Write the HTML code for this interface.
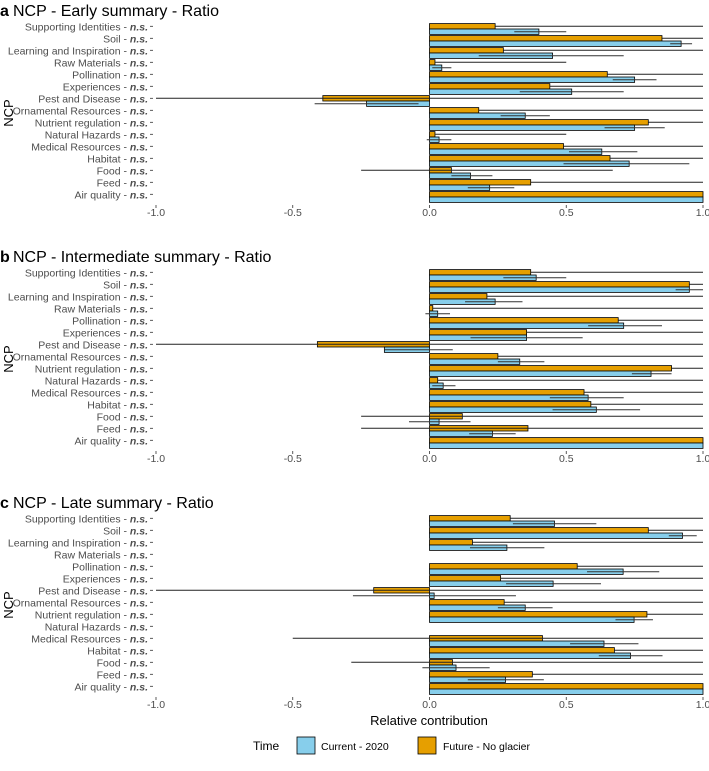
<!DOCTYPE html>
<html><head><meta charset="utf-8">
<style>
body{margin:0;background:#fff;}
svg text{font-family:"Liberation Sans",sans-serif;}
</style></head>
<body>
<svg id="chart" width="709" height="766" xmlns="http://www.w3.org/2000/svg"></svg>
<script>
const categories = ["Supporting Identities","Soil","Learning and Inspiration","Raw Materials","Pollination","Experiences","Pest and Disease","Ornamental Resources","Nutrient regulation","Natural Hazards","Medical Resources","Habitat","Food","Feed","Air quality"];
const tickValues = [-1.0,-0.5,0.0,0.5,1.0];
const tickLabels = ["-1.0","-0.5","0.0","0.5","1.0"];
const panelTitles = ["NCP - Early summary - Ratio","NCP - Intermediate summary - Ratio","NCP - Late summary - Ratio"];
const panelLetters = ["a","b","c"];

// Early
const futureA = [0.24,0.85,0.27,0.02,0.65,0.44,-0.39,0.18,0.80,0.02,0.49,0.66,0.08,0.37,1.0];
const futureLoA = [0.24,0.85,0.27,0.02,0.65,0.44,-1.0,0.18,0.80,0.02,0.49,0.66,-0.25,0.37,1.0];
const futureHiA = [1.0,1.0,1.0,0.50,1.0,1.0,1.0,1.0,1.0,0.50,1.0,1.0,0.67,1.0,1.0];
const currentA = [0.40,0.92,0.45,0.045,0.75,0.52,-0.23,0.35,0.75,0.035,0.63,0.73,0.15,0.22,1.0];
const currentLoA = [0.31,0.88,0.18,0.01,0.67,0.33,-0.42,0.26,0.64,-0.01,0.51,0.49,0.08,0.14,1.0];
const currentHiA = [0.50,0.96,0.71,0.08,0.83,0.71,-0.04,0.44,0.86,0.08,0.76,0.95,0.23,0.31,1.0];
// Intermediate
const futureB = [0.37,0.95,0.21,0.012,0.69,0.355,-0.41,0.25,0.885,0.03,0.565,0.59,0.12,0.36,1.0];
const futureLoB = [0.37,0.95,0.21,0.012,0.69,0.355,-1.0,0.25,0.885,0.03,0.565,0.59,-0.25,-0.25,1.0];
const futureHiB = [1.0,1.0,1.0,1.0,1.0,1.0,1.0,1.0,1.0,1.0,1.0,1.0,1.0,1.0,1.0];
const currentB = [0.39,0.95,0.24,0.03,0.71,0.355,-0.165,0.33,0.81,0.05,0.58,0.61,0.035,0.23,1.0];
const currentLoB = [0.27,0.90,0.13,-0.015,0.58,0.15,-0.165,0.25,0.74,0.01,0.44,0.45,-0.075,0.145,1.0];
const currentHiB = [0.50,1.0,0.34,0.075,0.85,0.56,0.085,0.42,0.885,0.095,0.71,0.77,0.15,0.315,1.0];
// Late
const futureC = [0.295,0.80,0.157,0,0.54,0.26,-0.204,0.273,0.795,0,0.413,0.676,0.084,0.376,1.0];
const futureLoC = [0.295,0.80,0.157,0,0.54,0.26,-1.0,0.273,0.795,0,-0.50,0.676,-0.286,0.376,1.0];
const futureHiC = [1.0,1.0,1.0,0,1.0,1.0,1.0,1.0,1.0,0,1.0,1.0,1.0,1.0,1.0];
const currentC = [0.457,0.925,0.283,0,0.708,0.452,0.017,0.35,0.748,0,0.638,0.735,0.097,0.278,1.0];
const currentLoC = [0.305,0.875,0.148,0,0.576,0.28,-0.28,0.25,0.68,0,0.514,0.619,-0.026,0.14,1.0];
const currentHiC = [0.61,0.977,0.42,0,0.84,0.627,0.316,0.45,0.817,0,0.764,0.852,0.22,0.418,1.0];

const panels = [
 {f:futureA,fl:futureLoA,fh:futureHiA,c:currentA,cl:currentLoA,ch:currentHiA,top:23,bottom:203,title:8},
 {f:futureB,fl:futureLoB,fh:futureHiB,c:currentB,cl:currentLoB,ch:currentHiB,top:269,bottom:449,title:254},
 {f:futureC,fl:futureLoC,fh:futureHiC,c:currentC,cl:currentLoC,ch:currentHiC,top:515,bottom:695,title:500}
];
const NS="http://www.w3.org/2000/svg";
const svg=document.getElementById('chart');
function mk(tag,attrs,parent){const e=document.createElementNS(NS,tag);for(const k in attrs)e.setAttribute(k,attrs[k]);(parent||svg).appendChild(e);return e;}
const xScale=v=>429.5+273.5*v;
const FO="#E69F00", BL="#87CEEB";

panels.forEach((p,pi)=>{
  const g=mk('g',{});
  
  
  const step=(p.bottom-p.top)/(categories.length);
  const yC=i=>p.top+step*(i+0.5);
  const bh=step*0.45;
  const tl=mk('text',{x:0,y:p.title+8,'font-size':16,'font-weight':'bold',fill:'#000'},g);tl.textContent=panelLetters[pi];
  
  
  const tt=mk('text',{x:13,y:p.title+8,'font-size':16,fill:'#000'},g);tt.textContent=panelTitles[pi];
  
  
  const yt=mk('text',{x:0,y:0,'font-size':13,fill:'#000','text-anchor':'middle',transform:`translate(13,${(p.top+p.bottom)/2}) rotate(-90)`},g);yt.textContent="NCP";
  
  
  categories.forEach((cat,i)=>{
    const y=yC(i);
    const lab=mk('text',{x:148,y:y-bh/2+4,'font-size':10.5,fill:'#4d4d4d','text-anchor':'end'},g);
    
    
    const t1=document.createElementNS(NS,'tspan');t1.textContent=cat+" - ";lab.appendChild(t1);
    const t2=document.createElementNS(NS,'tspan');t2.setAttribute('font-weight','bold');t2.setAttribute('font-style','italic');t2.textContent="n.s.";lab.appendChild(t2);
    mk('line',{x1:150,x2:153,y1:y-bh/2,y2:y-bh/2,stroke:'#333','stroke-width':0.8},g);
    const fv=p.f[i], cv=p.c[i];
    const fb=mk('rect',{x:Math.min(xScale(0),xScale(fv)),y:y-bh,width:Math.abs(xScale(fv)-xScale(0)),height:bh,fill:FO,stroke:'#000','stroke-width':0.8},g);
    
    
    const cb=mk('rect',{x:Math.min(xScale(0),xScale(cv)),y:y,width:Math.abs(xScale(cv)-xScale(0)),height:bh,fill:BL,stroke:'#000','stroke-width':0.8},g);
    
    
    if(p.fh[i]!==p.fl[i]){const e=mk('line',{x1:xScale(p.fl[i]),x2:xScale(p.fh[i]),y1:y-bh/2,y2:y-bh/2,stroke:'#222','stroke-width':1},g);
      
      }
    if(p.ch[i]!==p.cl[i]){const e=mk('line',{x1:xScale(p.cl[i]),x2:xScale(p.ch[i]),y1:y+bh/2,y2:y+bh/2,stroke:'#333','stroke-width':1},g);
      
      }
  });
  tickValues.forEach((v,k)=>{
    const x=xScale(v);
    mk('line',{x1:x,x2:x,y1:p.bottom+2,y2:p.bottom+5,stroke:'#333','stroke-width':0.8},g);
    const t=mk('text',{x:x,y:p.bottom+13,'font-size':10.5,fill:'#4d4d4d','text-anchor':'middle'},g);t.textContent=tickLabels[k];
    
    
  });
});
const xt=mk('text',{x:429,y:725,'font-size':13,fill:'#000','text-anchor':'middle'});xt.textContent="Relative contribution";


const lg=mk('g',{});


const lt=mk('text',{x:253,y:750,'font-size':12,fill:'#000'},lg);lt.textContent="Time";
const k1=mk('rect',{x:297,y:737,width:18,height:17,fill:BL,stroke:'#000','stroke-width':0.8},lg);


const l1=mk('text',{x:321,y:750,'font-size':10.5,fill:'#000'},lg);l1.textContent="Current - 2020";
const k2=mk('rect',{x:418,y:737,width:18,height:17,fill:FO,stroke:'#000','stroke-width':0.8},lg);


const l2=mk('text',{x:443,y:750,'font-size':10.5,fill:'#000'},lg);l2.textContent="Future - No glacier";
</script>
</body></html>
